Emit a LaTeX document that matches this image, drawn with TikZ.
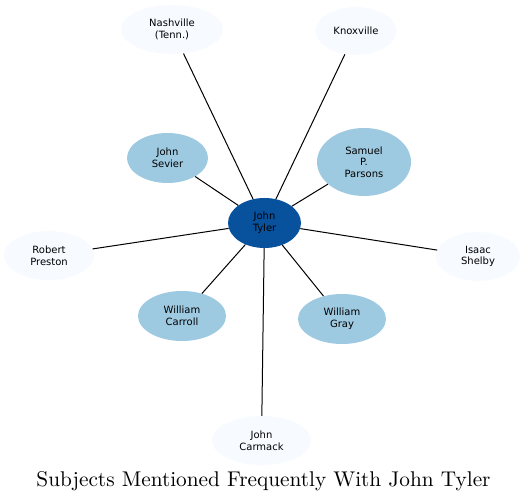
\documentclass[tikz,border=0pt]{standalone}
\usepackage{fontspec}
\newfontfamily\subjfont{DejaVu Sans}
\usetikzlibrary{shapes.geometric}
\definecolor{tylerblue}{HTML}{08519C}
\definecolor{nearblue}{HTML}{9ECAE1}
\definecolor{farblue}{HTML}{F7FBFF}

\begin{document}
\begin{tikzpicture}[x=1pt, y=-1pt, every node/.style={ellipse, inner sep=0pt, align=center, font=\subjfont\fontsize{10}{11.7}\selectfont}]
	\tikzstyle{hub}=[fill=tylerblue]
	\tikzstyle{near}=[fill=nearblue]
	\tikzstyle{far}=[fill=farblue]
	\useasboundingbox (0,0) rectangle (526,502);
	\node[hub, minimum width=73pt, minimum height=50pt] (tyler) at (264.5,223) {John\\Tyler};
	\node[far, minimum width=102pt, minimum height=49pt] (nashville) at (172,29.5) {Nashville\\(Tenn.)};
	\node[far, minimum width=81pt, minimum height=48pt] (knoxville) at (356,31) {Knoxville};
	\node[near, minimum width=81pt, minimum height=50pt] (sevier) at (167.5,158) {John\\Sevier};
	\node[near, minimum width=94pt, minimum height=68pt] (parsons) at (364,162) {Samuel\\P.\\Parsons};
	\node[far, minimum width=90pt, minimum height=49pt] (preston) at (49,255.5) {Robert\\Preston};
	\node[far, minimum width=84pt, minimum height=49pt] (shelby) at (478,256.5) {Isaac\\Shelby};
	\node[near, minimum width=88pt, minimum height=50pt] (carroll) at (182,316) {William\\Carroll};
	\node[near, minimum width=88pt, minimum height=50pt] (gray) at (342,319) {William\\Gray};
	\node[far, minimum width=99pt, minimum height=49pt] (carmack) at (261.5,440.5) {John\\Carmack};
	\foreach \s in {nashville,knoxville,sevier,parsons,preston,shelby,carroll,gray,carmack}
		\draw[line width=1pt] (tyler) -- (\s);
	\node[rectangle, anchor=base, font=\normalfont\fontsize{10}{12}\selectfont] (title) at (263.5,486) {\scalebox{2.13}{Subjects Mentioned Frequently With John Tyler}};
\end{tikzpicture}
\end{document}
